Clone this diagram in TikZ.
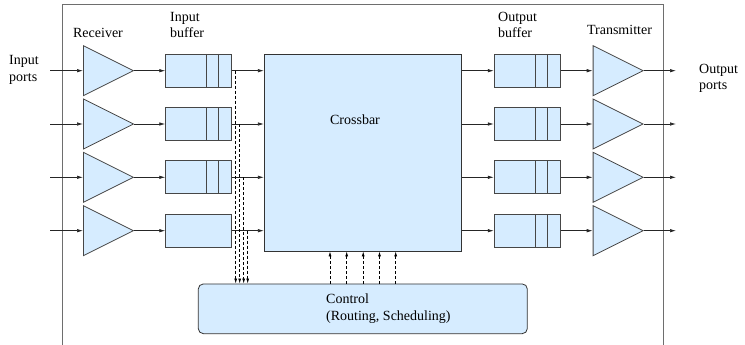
\documentclass[tikz,border=0pt]{standalone}
\usepackage{fontspec}
\setmainfont{Liberation Serif}
\usetikzlibrary{arrows.meta,shapes.geometric,positioning}
\definecolor{boxfill}{RGB}{214,236,255}
\definecolor{edge}{RGB}{70,70,70}
\definecolor{frame}{RGB}{110,110,110}
\tikzset{
  x=1pt, y=-1pt,
  lbl/.style={font=\fontsize{14}{16.5}\selectfont, inner sep=0pt, align=left},
  amp/.style={isosceles triangle, isosceles triangle stretches, shape border rotate=0,
    minimum width=50pt, minimum height=50pt, inner sep=0pt, fill=boxfill, draw=edge,
    line width=0.8pt, anchor=lower side},
  bufbox/.style={rectangle, minimum width=66pt, minimum height=33pt, inner sep=0pt,
    fill=boxfill, draw=edge, line width=0.8pt},
  link/.style={draw=black!85, line width=0.7pt, -{Latex[length=6pt,width=3.5pt]}},
  ctl/.style={draw=black, line width=0.7pt, dashed, dash pattern=on 3pt off 2pt,
    -{Latex[length=5pt,width=3pt]}},
}
\begin{document}
\begin{tikzpicture}
\useasboundingbox (0,0) rectangle (745,345);
% enclosing frame (open at the bottom)
\draw[frame, line width=0.8pt] (62,345) -- (62,4) -- (663,4) -- (663,345);

% crossbar and control unit
\node[rectangle, fill=boxfill, draw=black!80, line width=0.8pt, inner sep=0pt,
  minimum width=197.4pt, minimum height=197pt] (xbar) at (363,152.5) {};
\node[lbl] (xbarlbl) at (355,120) {Crossbar};
\node[rectangle, rounded corners=5pt, fill=boxfill, draw=black!80, line width=0.8pt, inner sep=0pt,
  minimum width=329pt, minimum height=49.7pt] (control) at (362.8,308.8) {};
\node[lbl, anchor=west] (ctltxt) at (326,308.5) {Control\\(Routing, Scheduling)};

% headings
\node[lbl] (rxlbl) at (98,33) {Receiver};
\node[lbl, anchor=west] (inblbl) at (170,25) {Input\\buffer};
\node[lbl, anchor=west] (outblbl) at (498,25) {Output\\buffer};
\node[lbl] (txlbl) at (619.5,30) {Transmitter};
\node[lbl, anchor=west] (inports) at (9,70) {Input\\ports};
\node[lbl, anchor=west] (outports) at (699,78.5) {Output\\ports};

% four port rows
\foreach \i/\y in {1/70.7,2/124,3/177.3,4/230.7}{
  \coordinate (in\i) at (50,\y);
  \coordinate (out\i) at (676,\y);
  \node[amp] (rx\i) at (83,\y) {};
  \node[bufbox] (ib\i) at (198.7,\y) {};
  \node[bufbox] (ob\i) at (527.2,\y) {};
  \node[amp] (tx\i) at (592.7,\y) {};
  \coordinate (xin\i) at (xbar.west |- ib\i.east);
  \coordinate (xout\i) at (xbar.east |- ob\i.west);
  \draw[link] (in\i) -- (rx\i.lower side);
  \draw[link] (rx\i.apex) -- (ib\i.west);
  \draw[link] (ib\i.east) -- (xin\i);
  \draw[link] (xout\i) -- (ob\i.west);
  \draw[link] (ob\i.east) -- (tx\i.lower side);
  \draw[link] (tx\i.apex) -- (out\i);
  % output buffer slots
  \draw[edge, line width=0.8pt] ([xshift=41.2pt]ob\i.north west) -- ([xshift=41.2pt]ob\i.south west)
    ([xshift=53.3pt]ob\i.north west) -- ([xshift=53.3pt]ob\i.south west);
}
% input buffer slots (the last input buffer has none)
\foreach \i in {1,2,3}{
  \draw[edge, line width=0.8pt] ([xshift=41pt]ib\i.north west) -- ([xshift=41pt]ib\i.south west)
    ([xshift=53.3pt]ib\i.north west) -- ([xshift=53.3pt]ib\i.south west);
}

% status lines from input buffers to control
\foreach \i/\x in {1/235.7,2/239.7,3/243.7,4/247.7}{
  \coordinate (tap\i) at (\x,0 |- ib\i.east);
  \draw[ctl] (tap\i) -- (tap\i |- control.north);
}
% control lines into crossbar
\foreach \x [count=\k] in {330,346.7,363.2,379.5,395.7}{
  \coordinate (cs\k) at (\x,0 |- control.north);
  \draw[ctl] (cs\k) -- (cs\k |- xbar.south);
}
\end{tikzpicture}
\end{document}
